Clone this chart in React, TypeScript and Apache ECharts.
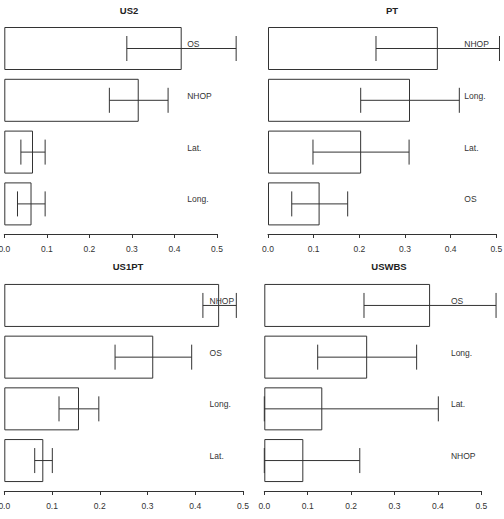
import React, { useEffect, useRef } from "react";
import * as echarts from "echarts";

// Panel titles
const titles = ["US2", "PT", "US1PT", "USWBS"];

// Categories per panel (top to bottom)
const catsUS2 = ["OS", "NHOP", "Lat.", "Long."];
const catsPT = ["NHOP", "Long.", "Lat.", "OS"];
const catsUS1PT = ["NHOP", "OS", "Long.", "Lat."];
const catsUSWBS = ["OS", "Long.", "Lat.", "NHOP"];

// Bar values
const valUS2 = [0.417, 0.316, 0.0675, 0.064];
const valPT = [0.372, 0.311, 0.204, 0.113];
const valUS1PT = [0.45, 0.312, 0.1565, 0.0817];
const valUSWBS = [0.382, 0.237, 0.1336, 0.0899];

// Error bar lower bounds
const loUS2 = [0.288, 0.247, 0.039, 0.031];
const loPT = [0.2365, 0.203, 0.0985, 0.052];
const loUS1PT = [0.416, 0.232, 0.1146, 0.0637];
const loUSWBS = [0.2297, 0.123, 0, 0];

// Error bar upper bounds
const hiUS2 = [0.545, 0.385, 0.096, 0.096];
const hiPT = [0.507, 0.419, 0.309, 0.1745];
const hiUS1PT = [0.486, 0.3925, 0.198, 0.1006];
const hiUSWBS = [0.534, 0.351, 0.401, 0.22];

// X-axis ticks
const xTicks = [0, 0.1, 0.2, 0.3, 0.4, 0.5];
const labelX = 0.43;

const panels = [
  { cats: catsUS2, val: valUS2, lo: loUS2, hi: hiUS2 },
  { cats: catsPT, val: valPT, lo: loPT, hi: hiPT },
  { cats: catsUS1PT, val: valUS1PT, lo: loUS1PT, hi: hiUS1PT },
  { cats: catsUSWBS, val: valUSWBS, lo: loUSWBS, hi: hiUSWBS },
];

// layout (px)
const grids = [
  { left: 4.3, width: 212.7, top: 22.6, height: 207.2, offset: 4.2, titleX: 129, titleY: 10 },
  { left: 268, width: 228.3, top: 22.6, height: 207.2, offset: 4.2, titleX: 392, titleY: 10 },
  { left: 4.3, width: 238.7, top: 279.6, height: 206.8, offset: 4.6, titleX: 128, titleY: 266 },
  { left: 264.3, width: 217, top: 279.6, height: 206.8, offset: 4.6, titleX: 389, titleY: 266 },
];

const LINE = "#333";
const FONT = "'Liberation Sans', Arial, sans-serif";

export default function App() {
  const ref = useRef<HTMLDivElement>(null);
  useEffect(() => {
    if (!ref.current) return;
    const chart = echarts.init(ref.current, undefined, { renderer: "svg" });
    const option: any = {
      animation: false,
      backgroundColor: "#fff",
      title: grids.map((g, i) => ({
        text: titles[i],
        left: g.titleX,
        top: g.titleY,
        textAlign: "center",
        textVerticalAlign: "middle",
        textStyle: { fontFamily: FONT, fontSize: 9.5, fontWeight: "bold", color: "#222" },
        padding: 0,
      })),
      grid: grids.map((g) => ({
        left: g.left,
        width: g.width,
        top: g.top,
        height: g.height,
        containLabel: false,
        outerBoundsMode: "none",
      })),
      xAxis: grids.map((g, i) => ({
        type: "value",
        gridIndex: i,
        min: 0,
        max: 0.5,
        interval: 0.1,
        offset: g.offset,
        axisLine: { show: true, lineStyle: { color: LINE, width: 1 } },
        axisTick: { show: true, length: 4, lineStyle: { color: LINE } },
        splitLine: { show: false },
        axisLabel: {
          margin: 10.5,
          fontFamily: FONT,
          fontSize: 8.5,
          color: "#333",
          formatter: (v: number) => v.toFixed(1),
          showMinLabel: true,
          showMaxLabel: true,
          hideOverlap: false,
        },
      })),
      yAxis: panels.map((p, i) => ({
        type: "category",
        gridIndex: i,
        data: p.cats,
        inverse: true,
        show: false,
      })),
      series: [
        ...panels.map((p, i) => ({
          type: "bar",
          xAxisIndex: i,
          yAxisIndex: i,
          data: p.val,
          barWidth: 43,
          z: 2,
          itemStyle: { color: "#fff", borderColor: LINE, borderWidth: 1 },
          silent: true,
        })),
        ...panels.map((p, i) => ({
          type: "custom",
          xAxisIndex: i,
          yAxisIndex: i,
          clip: false,
          silent: true,
          z: 5,
          data: p.cats.map((c, k) => [p.lo[k], p.hi[k], k]),
          encode: { x: [0, 1], y: 2 },
          renderItem: (params: any, api: any) => {
            const lo = api.value(0);
            const hi = api.value(1);
            const k = api.value(2);
            const a = api.coord([lo, k]);
            const b = api.coord([hi, k]);
            const t = api.coord([labelX, k]);
            const cap = 12.5;
            const ls = { stroke: LINE, lineWidth: 1 };
            return {
              type: "group",
              children: [
                { type: "line", shape: { x1: a[0], y1: a[1], x2: b[0], y2: b[1] }, style: ls },
                { type: "line", shape: { x1: a[0], y1: a[1] - cap, x2: a[0], y2: a[1] + cap }, style: ls },
                { type: "line", shape: { x1: b[0], y1: b[1] - cap, x2: b[0], y2: b[1] + cap }, style: ls },
                {
                  type: "text",
                  x: t[0],
                  y: t[1] - 4.5,
                  style: {
                    text: p.cats[k],
                    fill: "#333",
                    font: `8.5px ${FONT}`,
                    textAlign: "left",
                    textVerticalAlign: "middle",
                  },
                },
              ],
            };
          },
        })),
      ],
    };
    chart.setOption(option);
    return () => chart.dispose();
  }, []);
  return (
    <div
      ref={ref}
      style={{ position: "fixed", left: 0, top: 0, width: 504, height: 519, background: "#fff" }}
    />
  );
}
